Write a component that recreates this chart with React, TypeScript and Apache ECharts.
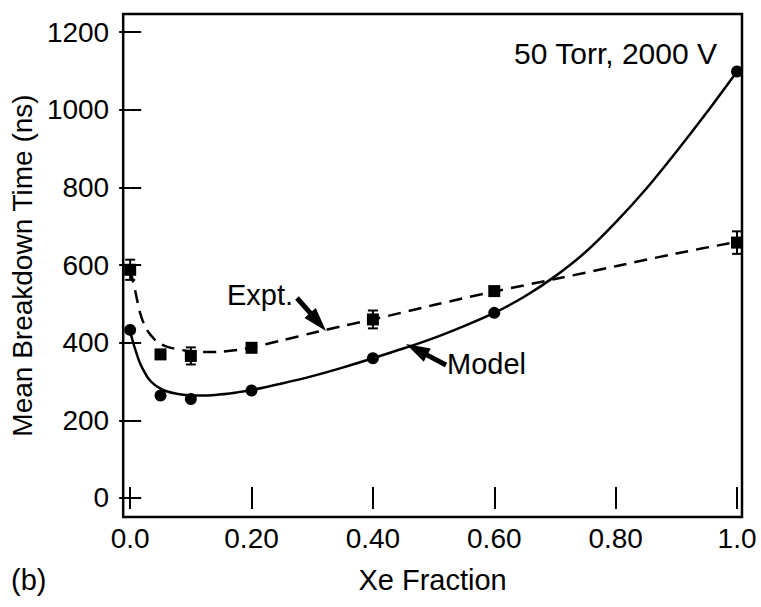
import React, { useEffect, useRef } from "react";
import * as echarts from "echarts";

// Measured points: Xe fraction vs. mean breakdown time (ns)
const xeFraction = [0, 0.05, 0.1, 0.2, 0.4, 0.6, 1.0];
const modelTime = [433, 264, 255, 277, 360, 477, 1099];
const exptTime = [588, 370, 366, 387, 460, 533, 658];
const exptError = [26, 8, 22, 8, 23, 8, 29];

// Smooth trend curves through the two data sets
const modelCurveX = [0, 0.005, 0.01, 0.015, 0.02, 0.03, 0.04, 0.05, 0.06, 0.075, 0.1, 0.125, 0.15, 0.175, 0.2, 0.25, 0.3, 0.35, 0.4, 0.45, 0.5, 0.55, 0.6, 0.65, 0.7, 0.75, 0.8, 0.85, 0.9, 0.95, 1.0];
const modelCurveY = [430, 400, 375, 352, 335, 308, 292, 282, 275, 269, 264, 264, 267, 272, 278, 295, 314, 336, 360, 385, 412, 443, 477, 519, 571, 633, 710, 796, 892, 993, 1099];
const exptCurveX = [0, 0.008, 0.0165, 0.0275, 0.044, 0.06, 0.09, 0.12, 0.15, 0.18, 0.2, 0.25, 0.3, 0.35, 0.4, 0.5, 0.6, 0.7, 0.8, 0.9, 1.0];
const exptCurveY = [588, 536, 476, 433, 403, 390, 380, 376, 377, 382, 388, 406, 425, 443, 460, 497, 532, 564, 597, 630, 660];

// Axis ticks and their labels
const xTicks = [0, 0.2, 0.4, 0.6, 0.8, 1.0];
const xTickLabels = ["0.0", "0.20", "0.40", "0.60", "0.80", "1.0"];
const yTicks = [0, 200, 400, 600, 800, 1000, 1200];
const yTickLabels = ["0", "200", "400", "600", "800", "1000", "1200"];

const FONT = "'Liberation Sans', Arial, Helvetica, sans-serif";
const FS = 28;

function arrowPoints(tail: number[], tip: number[], shaftW = 5, headLen = 24, headW = 15) {
  const dx = tip[0] - tail[0];
  const dy = tip[1] - tail[1];
  const len = Math.hypot(dx, dy);
  const ux = dx / len, uy = dy / len;
  const px = -uy, py = ux;
  const bx = tip[0] - ux * headLen, by = tip[1] - uy * headLen;
  return [
    [tail[0] + px * shaftW / 2, tail[1] + py * shaftW / 2],
    [bx + px * shaftW / 2, by + py * shaftW / 2],
    [bx + px * headW / 2, by + py * headW / 2],
    [tip[0], tip[1]],
    [bx - px * headW / 2, by - py * headW / 2],
    [bx - px * shaftW / 2, by - py * shaftW / 2],
    [tail[0] - px * shaftW / 2, tail[1] - py * shaftW / 2],
  ];
}

function tickLabel(values: number[], labels: string[]) {
  return (v: number) => {
    const i = values.findIndex((t) => Math.abs(t - v) < 1e-9);
    return i >= 0 ? labels[i] : "";
  };
}

export default function App() {
  const ref = useRef<HTMLDivElement>(null);

  useEffect(() => {
    if (!ref.current) return;
    const chart = echarts.init(ref.current, undefined, { renderer: "svg" });

    const tickStyle = { inside: true, length: 11, lineStyle: { color: "#000", width: 2 } };
    const xRange = { min: -0.0115, max: 1.0082 };
    const yRange = { min: -49, max: 1247 };

    const option: any = {
      animation: false,
      backgroundColor: "#fff",
      textStyle: { fontFamily: FONT },
      grid: {
        left: 123, top: 14, right: 19, bottom: 90,
        show: true, borderColor: "#000", borderWidth: 2.5, backgroundColor: "transparent",
      },
      xAxis: [
        {
          type: "value", position: "bottom", ...xRange,
          axisLine: { show: false }, splitLine: { show: false },
          axisTick: { ...tickStyle, customValues: xTicks },
          axisLabel: {
            customValues: xTicks, formatter: tickLabel(xTicks, xTickLabels),
            color: "#000", fontSize: FS, fontFamily: FONT, margin: 7,
          },
          name: "Xe Fraction", nameLocation: "middle", nameGap: 48,
          nameTextStyle: { color: "#000", fontSize: 29, fontFamily: FONT },
        },
        {
          type: "value", position: "top", ...xRange,
          axisLine: { show: false }, splitLine: { show: false },
          axisTick: { ...tickStyle, customValues: xTicks },
          axisLabel: { show: false },
        },
      ],
      yAxis: [
        {
          type: "value", position: "left", ...yRange,
          axisLine: { show: false }, splitLine: { show: false },
          axisTick: { ...tickStyle, customValues: yTicks },
          axisLabel: {
            customValues: yTicks, formatter: tickLabel(yTicks, yTickLabels),
            color: "#000", fontSize: FS, fontFamily: FONT, margin: 14,
          },
          name: "Mean Breakdown Time (ns)", nameLocation: "middle", nameGap: 82,
          nameTextStyle: { color: "#000", fontSize: FS, fontFamily: FONT },
        },
        {
          type: "value", position: "right", ...yRange,
          axisLine: { show: false }, splitLine: { show: false },
          axisTick: { ...tickStyle, customValues: yTicks },
          axisLabel: { show: false },
        },
      ],
      series: [
        {
          name: "Model fit", type: "line", smooth: 0.3, showSymbol: false, symbol: "none",
          data: modelCurveX.map((x, i) => [x, modelCurveY[i]]),
          lineStyle: { color: "#000", width: 2.5 }, z: 2, silent: true,
        },
        {
          name: "Expt. fit", type: "line", smooth: 0.3, showSymbol: false, symbol: "none",
          data: exptCurveX.map((x, i) => [x, exptCurveY[i]]),
          lineStyle: { color: "#000", width: 2.5, type: [13, 8] }, z: 2, silent: true,
        },
        {
          name: "Expt. error", type: "custom", clip: false, z: 3,
          encode: { x: 0, y: [1, 2] },
          data: xeFraction.map((x, i) => [x, exptTime[i] - exptError[i], exptTime[i] + exptError[i]]),
          renderItem: (_params: any, api: any) => {
            const lo = api.coord([api.value(0), api.value(1)]);
            const hi = api.coord([api.value(0), api.value(2)]);
            const w = 5;
            const st = { stroke: "#000", lineWidth: 2 };
            return {
              type: "group",
              children: [
                { type: "line", shape: { x1: lo[0], y1: lo[1], x2: hi[0], y2: hi[1] }, style: st },
                { type: "line", shape: { x1: lo[0] - w, y1: lo[1], x2: lo[0] + w, y2: lo[1] }, style: st },
                { type: "line", shape: { x1: hi[0] - w, y1: hi[1], x2: hi[0] + w, y2: hi[1] }, style: st },
              ],
            };
          },
        },
        {
          name: "Expt.", type: "scatter", symbol: "rect", symbolSize: 12, clip: false, z: 4,
          data: xeFraction.map((x, i) => [x, exptTime[i]]),
          itemStyle: { color: "#000", opacity: 1 },
        },
        {
          name: "Model", type: "scatter", symbol: "circle", symbolSize: 12, clip: false, z: 4,
          data: xeFraction.map((x, i) => [x, modelTime[i]]),
          itemStyle: { color: "#000", opacity: 1 },
        },
      ],
      graphic: [
        {
          type: "text", x: 717, y: 53,
          style: { text: "50 Torr, 2000 V", fill: "#000", font: `30px ${FONT}`, align: "right", verticalAlign: "middle" },
        },
        {
          type: "text", x: 227, y: 295,
          style: { text: "Expt.", fill: "#000", font: `29px ${FONT}`, align: "left", verticalAlign: "middle" },
        },
        {
          type: "text", x: 447, y: 364,
          style: { text: "Model", fill: "#000", font: `29px ${FONT}`, align: "left", verticalAlign: "middle" },
        },
        {
          type: "text", x: 11, y: 580,
          style: { text: "(b)", fill: "#000", font: `29px ${FONT}`, align: "left", verticalAlign: "middle" },
        },
        { type: "polygon", shape: { points: arrowPoints([297, 298], [326, 331]) }, style: { fill: "#000" } },
        { type: "polygon", shape: { points: arrowPoints([446, 365], [406, 344]) }, style: { fill: "#000" } },
      ],
    };

    chart.setOption(option);
    return () => chart.dispose();
  }, []);

  return <div ref={ref} style={{ width: 761, height: 607, position: "absolute", left: 0, top: 0 }} />;
}
